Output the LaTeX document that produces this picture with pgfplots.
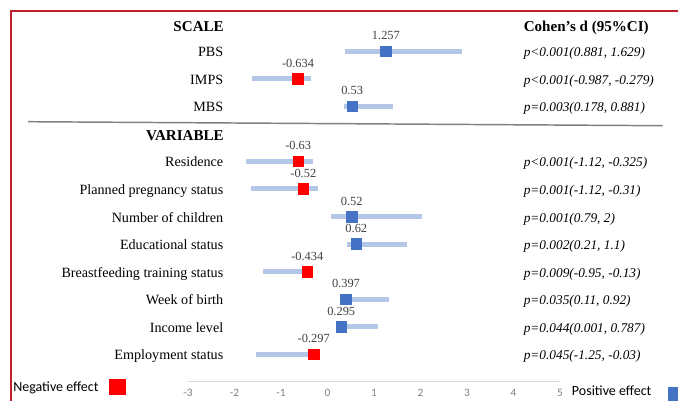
\documentclass[border=0pt]{standalone}
\usepackage{pgfplots}
\pgfplotsset{compat=1.18}
\usepackage{pgfplotstable}
\usepackage{fontspec}
\setmainfont{Liberation Serif}
\newfontfamily\calibri{Carlito}
\definecolor{posblue}{HTML}{4472C4}
\definecolor{negred}{HTML}{FF0000}
\definecolor{barblue}{HTML}{B4C7E7}
\definecolor{framered}{HTML}{C0202E}
\definecolor{sepgray}{HTML}{808080}
\definecolor{axgray}{HTML}{D9D9D9}
\definecolor{tickgray}{HTML}{808080}
\definecolor{labgray}{HTML}{404040}
\newcommand\myhd{\bfseries\fontsize{11.3}{13}\selectfont}
\newcommand\mylb{\fontsize{10.6}{12}\selectfont}
\newcommand\mypv{\itshape\fontsize{10}{12}\selectfont}
\newcommand\mylg{\calibri\fontsize{10.5}{12}\selectfont}

% row  value  minus  plus
\pgfplotstableread{
row val em ep
-1 1.257 0.881 1.629
-2 -0.634 0.987 0.279
-3 0.53 0.178 0.881
-5 -0.63 1.12 0.325
-6 -0.52 1.12 0.31
-7 0.52 0.452 1.51
-8 0.62 0.21 1.1
-9 -0.434 0.95 0.13
-10 0.397 0.11 0.92
-11 0.295 0.001 0.787
-12 -0.297 1.25 0.03
}\bardata

\pgfplotstableread{
row val lab
-1 1.257 1.257
-3 0.53 0.53
-7 0.52 0.52
-8 0.62 0.62
-10 0.397 0.397
-11 0.295 0.295
}\posdata

\pgfplotstableread{
row val lab
-2 -0.634 -0.634
-5 -0.63 -0.63
-6 -0.52 -0.52
-9 -0.434 -0.434
-12 -0.297 -0.297
}\negdata

\begin{document}
\begin{tikzpicture}
\useasboundingbox (0,0) rectangle (508.5pt,-300pt);
\clip (0,0) rectangle (508.5pt,-300pt);
\begin{scope}[x=0.75pt,y=-0.75pt]
\draw[framered, line width=0.9pt] (11,420) -- (11,11) -- (700,11);
\draw[sepgray, line width=1.1pt] (28,121.7) -- (662.5,125.7);
\node[anchor=base east, inner sep=0, font=\myhd] at (224,31) {SCALE};
\node[anchor=base west, inner sep=0, font=\myhd] at (523.5,31) {Cohen's d (95\%CI)};
\node[anchor=base east, inner sep=0, font=\myhd] at (224,140.7) {VARIABLE};
\foreach \t/\yy in {PBS/56.7, IMPS/84.2, MBS/111.8, Residence/166.9, Planned pregnancy status/194.4, Number of children/222, Educational status/249.5, Breastfeeding training status/277.1, Week of birth/304.6, Income level/332.1, Employment status/359.7}
  {\node[anchor=base east, inner sep=0, font=\mylb] at (223.5,\yy) {\t};}
\node[anchor=base west, inner sep=0, font=\mypv] at (523.5,56.7) {p<0.001(0.881, 1.629)};
\node[anchor=base west, inner sep=0, font=\mypv] at (523.5,84.2) {p<0.001(-0.987, -0.279)};
\node[anchor=base west, inner sep=0, font=\mypv] at (523.5,111.8) {p=0.003(0.178, 0.881)};
\node[anchor=base west, inner sep=0, font=\mypv] at (523.5,166.9) {p<0.001(-1.12, -0.325)};
\node[anchor=base west, inner sep=0, font=\mypv] at (523.5,194.4) {p=0.001(-1.12, -0.31)};
\node[anchor=base west, inner sep=0, font=\mypv] at (523.5,222) {p=0.001(0.79, 2)};
\node[anchor=base west, inner sep=0, font=\mypv] at (523.5,249.5) {p=0.002(0.21, 1.1)};
\node[anchor=base west, inner sep=0, font=\mypv] at (523.5,277.1) {p=0.009(-0.95, -0.13)};
\node[anchor=base west, inner sep=0, font=\mypv] at (523.5,304.6) {p=0.035(0.11, 0.92)};
\node[anchor=base west, inner sep=0, font=\mypv] at (523.5,332.1) {p=0.044(0.001, 0.787)};
\node[anchor=base west, inner sep=0, font=\mypv] at (523.5,359.7) {p=0.045(-1.25, -0.03)};
\node[anchor=base west, inner sep=0, font=\mylg, text=black] at (13,391) {Negative effect};
\fill[negred] (109,379) rectangle (125.7,394.5);
\node[anchor=base west, inner sep=0, font=\mylg, text=black] at (571.7,395) {Positive effect};
\fill[posblue] (667.7,386.7) rectangle (684,403);
\end{scope}
\begin{axis}[
  at={(141pt,-286.35pt)}, anchor=south west,
  scale only axis, width=279pt, height=268.6pt,
  xmin=-3, xmax=5, ymin=-13, ymax=0,
  clip=false,
  axis y line=none, axis x line=bottom,
  axis line style={-, draw=axgray, line width=0.8pt},
  xtick={-3,...,5}, major tick length=0pt,
  tick style={draw=none},
  /pgf/number format/assume math mode=true,
  xticklabel style={font=\calibri\fontsize{8.5}{9}\selectfont, text=tickgray, anchor=north, inner sep=0pt, yshift=-5.2pt},
]
\addplot[draw=none, mark=none, forget plot,
  error bars/.cd, x dir=both, x explicit, error mark=none,
  error bar style={draw=barblue, line width=3.75pt}]
  table[x=val, y=row, x error minus=em, x error plus=ep] {\bardata};
\addplot[only marks, mark=square*, mark size=4pt, color=posblue,
  point meta=explicit symbolic, nodes near coords,
  every node near coord/.append style={anchor=base, yshift=8.6pt, inner sep=0pt, text=labgray, font=\fontsize{9.3}{10}\selectfont}]
  table[x=val, y=row, meta=lab] {\posdata};
\addplot[only marks, mark=square*, mark size=4pt, color=negred,
  point meta=explicit symbolic, nodes near coords,
  every node near coord/.append style={anchor=base, yshift=8.6pt, inner sep=0pt, text=labgray, font=\fontsize{9.3}{10}\selectfont}]
  table[x=val, y=row, meta=lab] {\negdata};
\end{axis}
\end{tikzpicture}
\end{document}
